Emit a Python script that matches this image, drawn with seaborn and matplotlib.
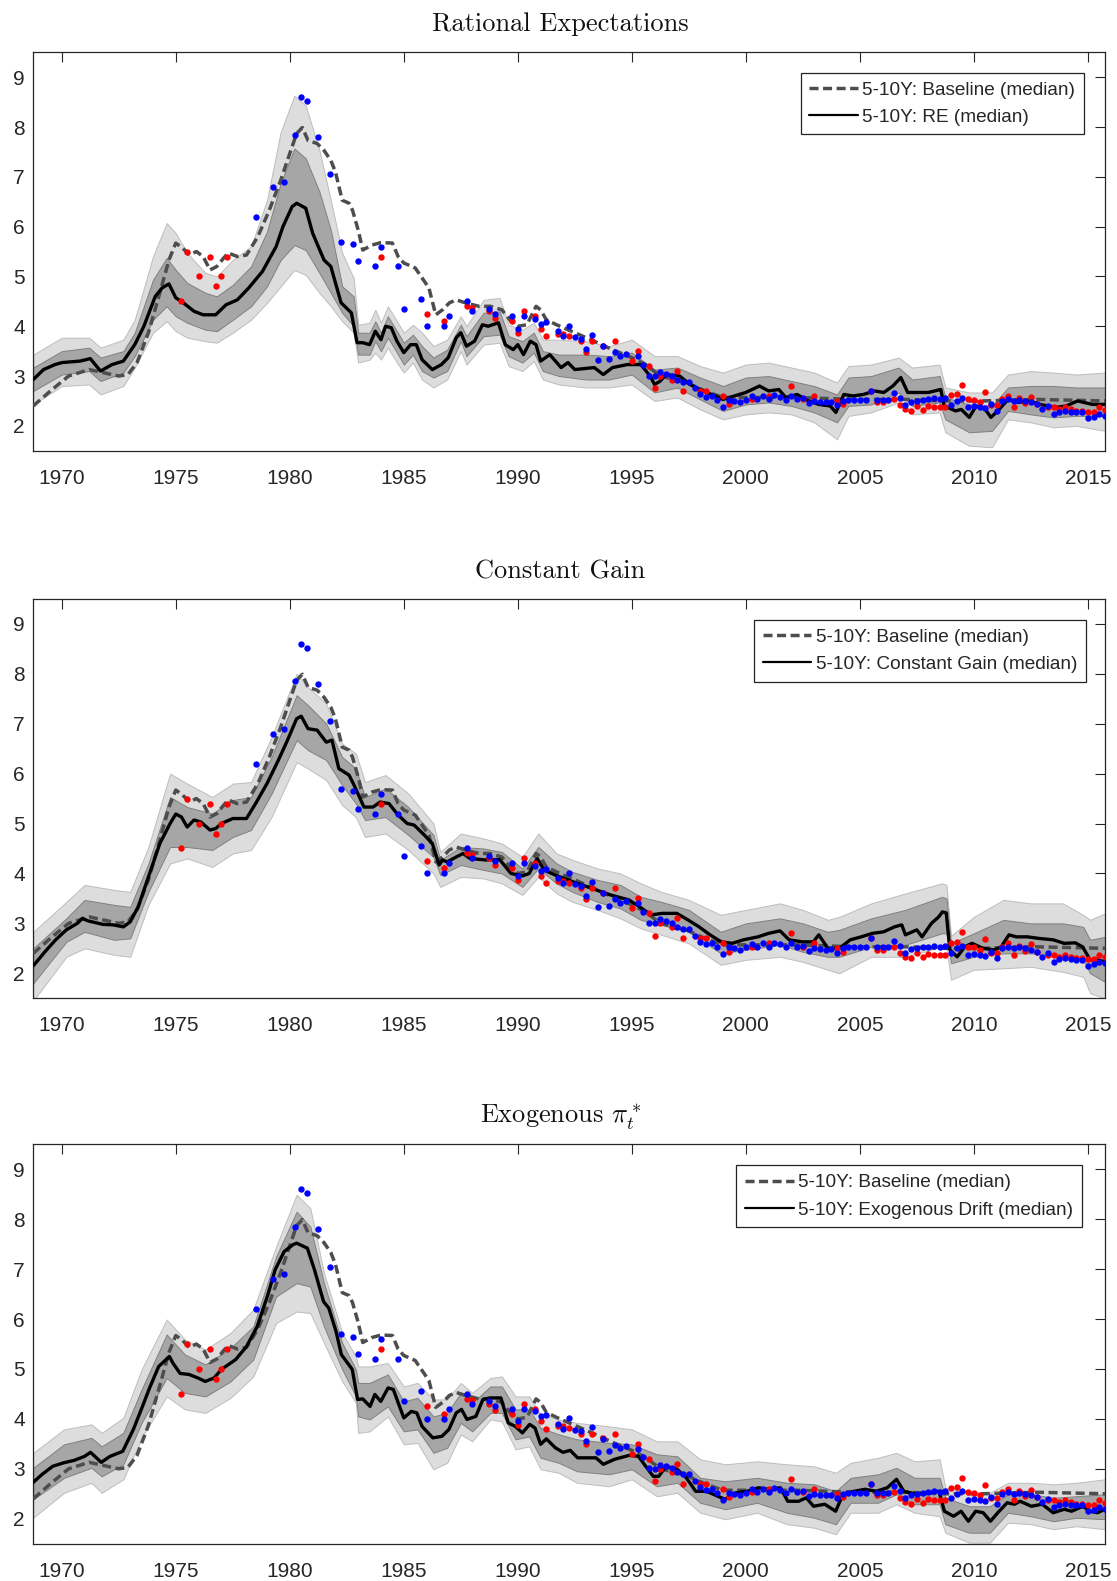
import numpy as np
import pandas as pd
import matplotlib
matplotlib.use("Agg")
import matplotlib.pyplot as plt
from matplotlib.lines import Line2D
import seaborn as sns

# ---------------- data ----------------
YEARS_TICKS = [1970, 1975, 1980, 1985, 1990, 1995, 2000, 2005, 2010, 2015]
Y_TICKS = [2, 3, 4, 5, 6, 7, 8, 9]
TITLES = ["Rational Expectations", "Constant Gain", r"Exogenous $\pi_t^*$"]
LEGEND_LABELS = ["5-10Y: Baseline (median)", "5-10Y: RE (median)",
                 "5-10Y: Constant Gain (median)", "5-10Y: Exogenous Drift (median)"]

# survey data (same in every panel)
RED_PTS = [(1975.25,4.5),(1975.5,5.5),(1976.0,5.0),(1976.5,5.4),(1976.75,4.8),(1977.0,5.0),(1977.25,5.4),
 (1984.0,5.4),(1986.0,4.25),(1986.75,4.1),(1987.75,4.4),(1988.0,4.37),(1988.75,4.3),(1989.0,4.17),(1989.75,4.1),
 (1990.0,3.87),(1990.25,4.3),(1990.75,4.2),(1991.0,3.95),(1991.25,3.8),(1991.75,3.85),(1992.0,3.85),(1992.25,3.81),
 (1992.75,3.7),(1993.0,3.49),(1993.25,3.7),(1993.75,3.61),(1994.25,3.7),(1995.0,3.3),(1995.25,3.5),(1995.75,3.2),
 (1996.0,2.75),(1996.25,3.0),(1996.75,2.93),(1997.0,3.1),(1997.25,2.7),(1998.0,2.7),(1998.25,2.7),(1999.0,2.6),
 (1999.25,2.43),(2000.25,2.53),(2001.0,2.6),(2002.0,2.8),(2002.5,2.53),(2003.0,2.6),(2004.0,2.5),(2004.25,2.43),
 (2005.5,2.7),(2005.75,2.47),(2006.0,2.47),(2006.5,2.53),(2006.75,2.41),(2007.0,2.33),(2007.25,2.3),(2007.5,2.4),
 (2007.75,2.32),(2008.0,2.39),(2008.25,2.37),(2008.5,2.37),(2008.75,2.37),(2009.0,2.61),(2009.25,2.63),(2009.5,2.82),
 (2009.75,2.53),(2010.0,2.52),(2010.25,2.47),(2010.5,2.68),(2010.75,2.41),(2011.0,2.41),(2011.25,2.53),(2011.5,2.6),
 (2011.75,2.37),(2012.0,2.55),(2012.25,2.45),(2012.5,2.58),(2012.75,2.43),(2013.25,2.37),(2013.5,2.37),(2013.75,2.33),
 (2014.0,2.37),(2014.25,2.33),(2014.5,2.3),(2014.75,2.3),(2015.0,2.28),(2015.25,2.28),(2015.5,2.37),(2015.75,2.32)]
BLUE_PTS = [(1978.5,6.2),(1979.25,6.8),(1979.75,6.9),(1980.25,7.85),(1980.5,8.6),(1980.75,8.52),(1981.25,7.8),
 (1981.75,7.05),(1982.25,5.7),(1982.75,5.65),(1983.0,5.3),(1983.75,5.2),(1984.0,5.6),(1984.75,5.2),(1985.0,4.35),
 (1985.75,4.55),(1986.0,4.0),(1986.75,4.0),(1987.0,4.2),(1987.75,4.5),(1988.0,4.3),(1988.75,4.35),(1989.0,4.25),
 (1989.75,4.2),(1990.0,3.95),(1990.25,4.2),(1990.75,4.15),(1991.0,4.05),(1991.25,4.08),(1991.75,3.9),(1992.0,3.8),
 (1992.25,4.01),(1992.5,3.78),(1992.75,3.75),(1993.0,3.55),(1993.25,3.83),(1993.5,3.33),(1993.75,3.6),(1994.0,3.35),
 (1994.25,3.48),(1994.5,3.41),(1994.75,3.45),(1995.25,3.4),(1995.5,3.23),(1995.75,3.01),(1996.0,3.0),(1996.25,3.08),
 (1996.5,3.05),(1996.75,3.01),(1997.0,2.93),(1997.25,2.89),(1997.5,2.89),(1997.75,2.75),(1998.0,2.63),(1998.25,2.58),
 (1998.5,2.6),(1998.75,2.52),(1999.0,2.38),(1999.25,2.52),(1999.5,2.5),(1999.75,2.47),(2000.0,2.52),(2000.25,2.59),
 (2000.5,2.53),(2000.75,2.6),(2001.0,2.53),(2001.25,2.61),(2001.5,2.58),(2001.75,2.52),(2002.0,2.6),(2002.25,2.53),
 (2002.5,2.55),(2002.75,2.45),(2003.0,2.5),(2003.25,2.48),(2003.5,2.47),(2003.75,2.48),(2004.0,2.41),(2004.25,2.5),
 (2004.5,2.52),(2004.75,2.52),(2005.0,2.52),(2005.25,2.52),(2005.5,2.7),(2005.75,2.52),(2006.0,2.52),(2006.25,2.52),
 (2006.5,2.65),(2006.75,2.55),(2007.0,2.41),(2007.25,2.48),(2007.5,2.5),(2007.75,2.52),(2008.0,2.53),(2008.25,2.55),
 (2008.5,2.53),(2008.75,2.55),(2009.0,2.41),(2009.25,2.5),(2009.5,2.55),(2009.75,2.37),(2010.0,2.39),(2010.25,2.37),
 (2010.5,2.35),(2010.75,2.43),(2011.0,2.3),(2011.25,2.5),(2011.5,2.53),(2011.75,2.5),(2012.0,2.52),(2012.25,2.5),
 (2012.5,2.47),(2012.75,2.43),(2013.0,2.33),(2013.25,2.4),(2013.5,2.23),(2013.75,2.28),(2014.0,2.3),(2014.25,2.28),
 (2014.5,2.27),(2014.75,2.27),(2015.0,2.15),(2015.25,2.18),(2015.5,2.23),(2015.75,2.2)]

# baseline median (same in every panel)
BASELINE = [(1968.75,2.4),(1969.5,2.7),(1970.3,3.0),(1971.2,3.13),(1971.8,3.07),(1972.5,3.0),(1972.9,3.03),
 (1973.3,3.27),(1973.8,3.87),(1974.3,4.67),(1974.7,5.33),(1975.0,5.67),(1975.3,5.57),(1975.6,5.43),(1975.9,5.5),
 (1976.2,5.4),(1976.5,5.13),(1976.8,5.2),(1977.1,5.37),(1977.3,5.47),(1977.7,5.4),(1978.1,5.43),(1978.6,5.8),
 (1979.1,6.33),(1979.6,6.93),(1980.0,7.47),(1980.3,7.87),(1980.55,7.99),(1980.8,7.73),(1981.2,7.67),(1981.5,7.53),
 (1981.8,7.33),(1982.0,7.1),(1982.3,6.53),(1982.6,6.47),(1982.75,6.33),(1983.0,5.93),(1983.2,5.53),(1983.6,5.63),
 (1984.0,5.68),(1984.5,5.67),(1984.75,5.4),(1985.0,5.27),(1985.5,5.17),(1985.8,4.97),(1986.1,4.77),(1986.4,4.23),
 (1986.7,4.33),(1987.0,4.47),(1987.3,4.53),(1987.7,4.47),(1988.3,4.4),(1988.8,4.4),(1989.3,4.33),(1989.7,4.1),
 (1990.0,4.0),(1990.4,4.03),(1990.8,4.4),(1991.0,4.33),(1991.25,4.13),(1991.7,4.03),(1992.5,3.87),(1993.35,3.7),
 (1994.15,3.53),(1995.0,3.37),(1995.6,3.23),(1996.25,3.0),(1997.4,2.87),(1998.2,2.7),(1999.0,2.57),(2000.0,2.57),
 (2002.25,2.57),(2004.7,2.53),(2007.1,2.53),(2008.55,2.5),(2010.35,2.5),(2012.8,2.53),(2015.75,2.5)]

# Rational expectations: median and bands (year, lo95, lo68, hi68, hi95)
RE_MEDIAN = [(1968.75,2.93),(1969.2,3.13),(1969.7,3.23),(1970.0,3.27),(1970.8,3.3),(1971.25,3.35),(1971.7,3.1),
 (1972.2,3.23),(1972.7,3.3),(1973.2,3.63),(1973.6,4.0),(1974.1,4.6),(1974.4,4.77),(1974.7,4.85),(1975.0,4.57),
 (1975.25,4.5),(1975.8,4.3),(1976.2,4.23),(1976.75,4.23),(1977.2,4.43),(1977.7,4.53),(1978.2,4.77),(1978.8,5.1),
 (1979.4,5.6),(1979.7,6.0),(1980.1,6.4),(1980.3,6.47),(1980.7,6.37),(1981.0,5.87),(1981.5,5.33),(1981.8,5.2),
 (1982.25,4.47),(1982.7,4.27),(1982.95,3.67),(1983.2,3.67),(1983.5,3.63),(1983.75,3.9),(1984.0,3.73),(1984.2,4.0),
 (1984.45,3.97),(1984.7,3.7),(1985.0,3.47),(1985.3,3.63),(1985.55,3.63),(1985.8,3.33),(1986.25,3.13),(1986.65,3.23),
 (1986.95,3.37),(1987.3,3.77),(1987.5,3.87),(1987.75,3.6),(1988.1,3.7),(1988.45,4.03),(1988.7,4.0),(1989.15,4.07),
 (1989.45,3.63),(1989.8,3.53),(1990.0,3.63),(1990.25,3.43),(1990.55,3.7),(1990.8,3.63),(1991.0,3.3),(1991.4,3.43),
 (1991.9,3.17),(1992.2,3.27),(1992.5,3.13),(1993.35,3.17),(1993.75,3.03),(1994.15,3.17),(1994.8,3.23),(1995.4,3.23),
 (1995.8,3.0),(1996.0,2.83),(1996.25,2.9),(1996.5,3.03),(1997.1,3.0),(1997.55,2.83),(1998.0,2.73),(1998.5,2.63),
 (1999.0,2.53),(1999.5,2.6),(2000.0,2.67),(2000.6,2.8),(2001.0,2.7),(2001.45,2.73),(2001.75,2.57),(2002.25,2.63),
 (2002.75,2.5),(2003.2,2.43),(2003.7,2.4),(2003.95,2.27),(2004.3,2.63),(2004.7,2.6),(2005.15,2.63),(2005.65,2.7),
 (2006.05,2.67),(2006.45,2.8),(2006.8,2.97),(2007.1,2.67),(2007.6,2.67),(2008.0,2.67),(2008.55,2.73),(2008.7,2.4),
 (2009.2,2.3),(2009.45,2.33),(2009.8,2.17),(2010.1,2.4),(2010.5,2.33),(2010.75,2.17),(2011.05,2.3),(2011.5,2.53),
 (2011.95,2.47),(2012.45,2.5),(2012.9,2.43),(2013.6,2.37),(2014.05,2.4),(2014.55,2.5),(2015.2,2.43),(2015.75,2.43)]
RE_BANDS = [(1968.75,2.43,2.7,3.17,3.43),(1970.0,2.8,3.03,3.5,3.77),(1971.2,2.83,3.1,3.57,3.77),
 (1971.7,2.63,2.9,3.37,3.57),(1972.7,2.8,3.07,3.5,3.73),(1973.2,3.17,3.4,3.87,4.13),(1974.0,3.87,4.13,4.93,5.4),
 (1974.6,4.1,4.4,5.37,6.07),(1975.0,3.9,4.2,5.13,5.87),(1975.5,3.77,4.07,4.87,5.47),(1976.3,3.7,3.93,4.67,5.07),
 (1976.8,3.67,3.9,4.6,5.0),(1977.5,3.87,4.13,4.83,5.33),(1978.3,4.13,4.4,5.2,5.6),(1979.0,4.47,4.8,5.9,6.53),
 (1979.6,4.8,5.33,6.87,7.9),(1980.2,5.13,5.63,7.57,8.63),(1980.7,5.03,5.53,7.37,8.43),(1981.3,4.67,5.07,6.7,7.53),
 (1981.8,4.4,4.67,5.93,6.53),(1982.3,4.1,4.27,4.8,5.47),(1982.8,3.87,4.0,4.6,4.97),(1983.0,3.27,3.43,3.87,4.03),
 (1983.5,3.33,3.43,3.87,4.07),(1983.75,3.47,3.7,4.1,4.33),(1984.0,3.33,3.5,3.87,4.07),(1984.3,3.57,3.77,4.2,4.4),
 (1984.7,3.27,3.47,3.9,4.1),(1985.0,3.07,3.23,3.67,3.87),(1985.4,3.27,3.43,3.83,4.03),(1985.8,2.93,3.1,3.6,3.87),
 (1986.3,2.77,2.97,3.37,3.6),(1986.9,2.93,3.1,3.53,3.73),(1987.5,3.5,3.7,4.03,4.2),(1987.75,3.23,3.4,3.8,4.0),
 (1988.5,3.63,3.8,4.27,4.53),(1989.2,3.67,3.83,4.3,4.57),(1989.6,3.2,3.4,3.8,4.03),(1990.2,3.1,3.27,3.7,3.93),
 (1990.7,3.3,3.47,3.87,4.07),(1991.1,2.93,3.1,3.5,3.73),(1991.8,2.83,3.0,3.43,3.73),(1993.0,2.77,2.93,3.43,3.7),
 (1994.0,2.77,2.93,3.4,3.6),(1995.0,2.83,3.03,3.47,3.73),(1996.0,2.5,2.67,3.13,3.4),(1997.0,2.57,2.77,3.17,3.4),
 (1998.0,2.33,2.53,2.97,3.2),(1999.0,2.13,2.3,2.8,3.07),(2000.0,2.23,2.43,2.97,3.23),(2001.0,2.27,2.47,3.0,3.27),
 (2002.0,2.23,2.4,2.9,3.17),(2003.0,2.07,2.27,2.8,3.07),(2004.0,1.73,2.07,2.63,2.87),(2004.5,2.2,2.4,2.97,3.2),
 (2005.5,2.27,2.43,3.0,3.23),(2006.7,2.47,2.67,3.17,3.37),(2007.3,2.23,2.4,2.93,3.17),(2008.5,2.27,2.47,3.0,3.23),
 (2008.75,1.87,2.13,2.57,2.77),(2009.8,1.6,1.87,2.43,2.67),(2010.8,1.57,1.9,2.4,2.67),(2011.5,2.13,2.3,2.77,3.03),
 (2012.5,2.07,2.23,2.8,3.1),(2013.5,1.97,2.17,2.8,3.07),(2014.5,2.0,2.2,2.77,3.03),(2015.75,1.9,2.2,2.77,3.07)]

# Constant gain
CG_MEDIAN = [(1968.75,2.15),(1969.26,2.43),(1969.73,2.67),(1970.2,2.87),(1970.68,3.0),(1970.9,3.1),(1971.15,3.05),
 (1971.8,2.98),(1972.25,2.97),(1972.7,2.93),(1973.0,3.03),(1973.35,3.33),(1973.8,3.93),(1974.3,4.6),(1974.75,5.0),
 (1975.0,5.19),(1975.25,5.13),(1975.5,4.93),(1975.8,5.07),(1976.1,5.03),(1976.5,4.87),(1976.75,4.9),(1977.0,5.0),
 (1977.5,5.1),(1978.1,5.1),(1978.5,5.4),(1979.0,5.8),(1979.5,6.27),(1979.9,6.67),(1980.3,7.1),(1980.5,7.15),
 (1980.8,6.9),(1981.2,6.87),(1981.6,6.63),(1981.85,6.67),(1982.15,6.1),(1982.6,5.97),(1982.86,5.73),(1983.25,5.33),
 (1983.65,5.33),(1983.96,5.43),(1984.35,5.4),(1984.75,5.17),(1985.15,5.0),(1985.45,4.97),(1985.9,4.77),(1986.25,4.6),
 (1986.55,4.17),(1986.7,4.27),(1986.9,4.23),(1987.3,4.33),(1987.6,4.4),(1987.9,4.3),(1988.6,4.27),(1989.2,4.28),
 (1989.7,4.0),(1990.2,3.95),(1990.5,4.0),(1990.85,4.3),(1991.15,4.07),(1991.63,3.97),(1992.44,3.83),(1993.25,3.7),
 (1994.06,3.57),(1994.87,3.47),(1995.35,3.33),(1995.84,3.17),(1996.33,3.2),(1996.97,3.2),(1997.46,3.07),(1997.95,2.93),
 (1998.43,2.77),(1998.92,2.63),(1999.4,2.6),(1999.89,2.67),(2000.53,2.73),(2001.0,2.8),(2001.5,2.85),(2001.9,2.67),
 (2002.47,2.63),(2002.96,2.63),(2003.2,2.77),(2003.6,2.5),(2004.1,2.5),(2004.58,2.67),(2005.06,2.73),(2005.55,2.8),
 (2006.04,2.83),(2006.52,2.93),(2006.84,2.97),(2007.0,2.77),(2007.5,2.87),(2007.73,2.73),(2008.14,3.0),(2008.46,3.13),
 (2008.62,3.23),(2008.79,3.21),(2008.95,2.47),(2009.27,2.33),(2009.6,2.53),(2009.92,2.6),(2010.4,2.5),(2010.9,2.47),
 (2011.2,2.53),(2011.54,2.77),(2011.86,2.73),(2012.35,2.73),(2012.83,2.7),(2013.48,2.67),(2013.96,2.6),(2014.45,2.61),
 (2014.77,2.53),(2015.1,2.27),(2015.42,2.27),(2015.75,2.23)]
CG_BANDS = [(1968.75,1.45,1.8,2.5,2.83),(1970.2,2.33,2.63,3.1,3.43),(1971.0,2.5,2.83,3.47,3.77),
 (1972.3,2.37,2.67,3.37,3.67),(1973.0,2.33,2.7,3.33,3.63),(1973.8,3.37,3.63,4.2,4.53),(1974.75,4.2,4.53,5.53,6.0),
 (1975.5,4.3,4.53,5.33,5.8),(1976.6,4.13,4.47,5.2,5.53),(1977.5,4.4,4.73,5.47,5.8),(1978.3,4.47,4.87,5.53,5.83),
 (1979.2,5.13,5.6,6.33,6.73),(1980.3,6.23,6.67,7.57,8.0),(1980.8,6.1,6.47,7.37,7.73),(1981.6,5.87,6.27,7.0,7.4),
 (1982.3,5.37,5.77,6.33,6.6),(1982.9,5.13,5.4,6.1,6.4),(1983.3,4.73,5.07,5.53,5.83),(1984.2,4.8,5.13,5.7,5.97),
 (1985.2,4.47,4.77,5.33,5.6),(1986.3,4.0,4.33,4.77,5.0),(1986.6,3.73,3.97,4.27,4.43),(1987.5,3.93,4.17,4.53,4.8),
 (1988.5,3.9,4.07,4.5,4.7),(1989.3,3.8,4.0,4.43,4.6),(1990.2,3.57,3.73,4.1,4.33),(1990.9,3.93,4.1,4.53,4.8),
 (1991.7,3.6,3.8,4.2,4.4),(1992.4,3.43,3.63,4.03,4.27),(1993.5,3.27,3.43,3.87,4.1),(1994.5,3.1,3.3,3.77,4.0),
 (1995.4,2.9,3.07,3.53,3.8),(1996.3,2.77,2.97,3.43,3.63),(1997.5,2.6,2.83,3.27,3.47),(1998.9,2.17,2.4,2.83,3.17),
 (2000.0,2.27,2.47,3.0,3.27),(2001.5,2.33,2.57,3.1,3.4),(2002.5,2.23,2.43,3.0,3.27),(2003.6,2.07,2.33,2.83,3.07),
 (2004.1,2.0,2.33,2.87,3.13),(2005.5,2.33,2.53,3.1,3.4),(2007.0,2.33,2.57,3.27,3.6),(2008.6,2.53,2.8,3.53,3.8),
 (2008.8,2.5,2.8,3.5,3.77),(2009.0,1.87,2.2,2.6,2.75),(2010.0,2.07,2.33,2.8,3.13),(2011.3,2.1,2.4,3.07,3.47),
 (2012.5,2.13,2.4,3.0,3.4),(2013.9,2.03,2.33,3.0,3.4),(2014.8,1.93,2.27,2.93,3.17),(2015.1,1.6,2.0,2.67,3.07),
 (2015.75,1.5,1.83,2.73,3.2)]

# Exogenous drift
EX_MEDIAN = [(1968.75,2.73),(1969.14,2.89),(1969.6,3.05),(1970.08,3.12),(1970.55,3.17),(1971.0,3.25),(1971.26,3.33),
 (1971.73,3.13),(1972.12,3.25),(1972.67,3.35),(1973.14,3.79),(1973.54,4.25),(1973.85,4.62),(1974.25,5.05),(1974.72,5.25),
 (1974.87,5.12),(1975.19,4.91),(1975.58,4.89),(1975.97,4.82),(1976.29,4.75),(1976.68,4.82),(1977.0,4.99),(1977.63,5.19),
 (1978.1,5.45),(1978.57,5.85),(1979.04,6.49),(1979.36,6.99),(1979.75,7.35),(1980.14,7.49),(1980.3,7.52),(1980.77,7.42),
 (1981.08,6.99),(1981.48,6.35),(1981.71,6.22),(1982.03,5.75),(1982.26,5.29),(1982.74,4.99),(1982.97,4.39),(1983.2,4.4),
 (1983.52,4.25),(1983.73,4.49),(1983.99,4.35),(1984.31,4.62),(1984.54,4.59),(1984.78,4.29),(1985.0,4.02),(1985.33,4.15),
 (1985.57,4.12),(1985.8,3.85),(1986.27,3.62),(1986.67,3.65),(1986.98,3.79),(1987.3,4.12),(1987.53,4.19),(1987.77,3.99),
 (1988.16,4.05),(1988.47,4.39),(1988.79,4.42),(1989.26,4.42),(1989.58,3.92),(1989.89,3.85),(1990.2,3.72),(1990.52,3.89),
 (1990.75,3.82),(1991.0,3.49),(1991.25,3.6),(1991.65,3.42),(1991.98,3.33),(1992.3,3.37),(1992.62,3.22),(1993.43,3.22),
 (1993.75,3.09),(1994.24,3.19),(1994.89,3.27),(1995.29,3.25),(1995.61,3.05),(1995.94,2.85),(1996.18,2.85),(1996.5,3.05),
 (1996.99,2.99),(1997.39,2.82),(1997.8,2.55),(1998.28,2.55),(1998.77,2.45),(1999.09,2.39),(1999.58,2.52),(2000.06,2.55),
 (2000.55,2.62),(2001.03,2.59),(2001.52,2.62),(2001.84,2.35),(2002.32,2.35),(2002.65,2.42),(2002.97,2.25),(2003.46,2.29),
 (2003.94,2.15),(2004.26,2.49),(2004.75,2.55),(2005.23,2.59),(2005.72,2.55),(2006.2,2.62),(2006.61,2.79),(2006.93,2.55),
 (2007.5,2.49),(2007.98,2.52),(2008.47,2.55),(2008.71,2.15),(2009.11,2.05),(2009.44,2.15),(2009.76,1.95),(2010.08,2.15),
 (2010.41,2.12),(2010.73,1.95),(2011.05,2.12),(2011.46,2.32),(2011.78,2.29),(2012.03,2.35),(2012.52,2.25),(2013.0,2.29),
 (2013.48,2.12),(2013.97,2.19),(2014.29,2.15),(2014.78,2.25),(2015.1,2.15),(2015.42,2.12),(2015.75,2.19)]
EX_BANDS = [(1968.75,2.02,2.39,3.02,3.32),(1970.1,2.52,2.82,3.49,3.79),(1971.3,2.72,3.02,3.62,3.89),
 (1971.75,2.52,2.85,3.45,3.72),(1972.7,2.79,3.09,3.72,4.02),(1973.5,3.62,3.92,4.59,4.99),(1974.6,4.45,4.82,5.69,5.99),
 (1975.4,4.19,4.52,5.29,5.59),(1976.3,4.12,4.45,5.09,5.39),(1977.4,4.42,4.75,5.42,5.72),(1978.4,4.85,5.19,5.85,6.19),
 (1979.4,5.92,6.45,7.25,7.45),(1980.3,6.15,6.72,8.15,8.49),(1980.9,6.12,6.65,7.85,8.22),(1981.5,5.52,5.85,6.72,6.92),
 (1982.3,4.75,4.99,5.52,5.72),(1982.9,4.32,4.45,4.99,5.25),(1983.0,3.72,4.05,4.72,5.05),(1983.5,3.75,3.99,4.72,5.05),
 (1984.3,4.05,4.25,4.89,5.12),(1985.0,3.49,3.75,4.35,4.65),(1985.6,3.52,3.79,4.42,4.72),(1986.3,2.99,3.32,4.05,4.39),
 (1986.9,3.12,3.42,4.12,4.39),(1987.5,3.69,3.92,4.52,4.72),(1988.0,3.55,3.75,4.32,4.52),(1988.8,3.99,4.12,4.65,4.82),
 (1989.3,3.95,4.12,4.65,4.85),(1989.9,3.39,3.59,4.19,4.45),(1990.5,3.45,3.65,4.19,4.45),(1991.0,2.99,3.22,3.82,4.09),
 (1991.8,2.92,3.12,3.69,3.99),(1992.6,2.72,2.95,3.59,3.92),(1994.0,2.65,2.89,3.52,3.85),(1995.0,2.79,2.99,3.49,3.79),
 (1996.1,2.45,2.65,3.29,3.55),(1997.0,2.52,2.72,3.25,3.55),(1998.0,2.12,2.32,2.82,3.19),(1999.1,1.99,2.19,2.75,3.09),
 (2000.5,2.12,2.32,2.82,3.15),(2001.8,1.89,2.12,2.72,3.09),(2003.0,1.82,2.02,2.69,3.05),(2003.95,1.69,1.89,2.55,2.92),
 (2004.6,2.12,2.32,2.82,3.12),(2005.8,2.12,2.32,2.89,3.22),(2006.6,2.29,2.49,3.02,3.32),(2007.4,2.12,2.29,2.82,3.15),
 (2008.5,2.05,2.29,2.82,3.19),(2008.75,1.72,1.89,2.42,2.62),(2009.8,1.52,1.72,2.25,2.52),(2010.7,1.52,1.72,2.25,2.52),
 (2011.5,1.92,2.12,2.49,2.72),(2012.5,1.89,2.05,2.49,2.72),(2013.5,1.79,1.95,2.42,2.69),(2014.5,1.85,2.02,2.45,2.72),
 (2015.75,1.79,1.99,2.49,2.79)]

# ---------------- style ----------------
sns.set_style("white")
plt.rcParams["font.family"] = ["Liberation Sans", "DejaVu Sans"]
plt.rcParams["mathtext.fontset"] = "cm"

OUTER_C = "#dddddd"
OUTER_E = "#bdbdbd"
INNER_C = "#a6a6a6"
INNER_E = "#808080"
BASE_C = "#4d4d4d"
BASE_DASH = (0, (2.6, 1.3))

fig = plt.figure(figsize=(11.17, 15.81), dpi=100)
rects = [[0.0298, 0.7149, 0.9594, 0.2520],
         [0.0298, 0.3686, 0.9594, 0.2526],
         [0.0298, 0.0236, 0.9594, 0.2526]]
legend_anchor = [(0.9804, 0.949), (0.9823, 0.947), (0.9785, 0.947)]
panels = [(RE_MEDIAN, RE_BANDS, LEGEND_LABELS[1]),
          (CG_MEDIAN, CG_BANDS, LEGEND_LABELS[2]),
          (EX_MEDIAN, EX_BANDS, LEGEND_LABELS[3])]

base_df = pd.DataFrame(BASELINE, columns=["year", "value"])
red_df = pd.DataFrame(RED_PTS, columns=["year", "value"])
blue_df = pd.DataFrame(BLUE_PTS, columns=["year", "value"])

for i, (med, bands, lab) in enumerate(panels):
    ax = fig.add_axes(rects[i])
    bdf = pd.DataFrame(bands, columns=["year", "lo95", "lo68", "hi68", "hi95"])
    mdf = pd.DataFrame(med, columns=["year", "value"])

    ax.fill_between(bdf["year"], bdf["lo95"], bdf["hi95"], facecolor=OUTER_C,
                    edgecolor=OUTER_E, linewidth=0.7, zorder=1)
    ax.fill_between(bdf["year"], bdf["lo68"], bdf["hi68"], facecolor=INNER_C,
                    edgecolor=INNER_E, linewidth=0.7, zorder=2)

    sns.lineplot(data=base_df, x="year", y="value", ax=ax, color=BASE_C, linewidth=2.5,
                 linestyle=BASE_DASH, estimator=None, sort=False, legend=False, zorder=3)
    sns.lineplot(data=mdf, x="year", y="value", ax=ax, color="black", linewidth=2.4,
                 estimator=None, sort=False, legend=False, zorder=4)
    sns.scatterplot(data=red_df, x="year", y="value", ax=ax, color="#ff0000", s=21,
                    linewidth=0, legend=False, zorder=5)
    sns.scatterplot(data=blue_df, x="year", y="value", ax=ax, color="#0000ff", s=21,
                    linewidth=0, legend=False, zorder=6)

    ax.set_xlim(1968.75, 2015.75)
    ax.set_ylim(1.5, 9.5)
    ax.set_xticks(YEARS_TICKS)
    ax.set_yticks(Y_TICKS)
    ax.set_xlabel("")
    ax.set_ylabel("")
    ax.tick_params(direction="in", length=7, width=0.8, top=True, right=True,
                   labelsize=15, colors="#262626", pad=6)
    ax.tick_params(axis="x", pad=13)
    for sp in ax.spines.values():
        sp.set_color("#262626")
        sp.set_linewidth(0.9)
        sp.set_visible(True)
    ax.set_title(TITLES[i], fontsize=19, family="cmr10", x=0.492,
                 pad=15, color="#111111")

    handles = [Line2D([0], [0], color=BASE_C, lw=2.5, linestyle=BASE_DASH),
               Line2D([0], [0], color="black", lw=1.6)]
    leg = ax.legend(handles, [LEGEND_LABELS[0], lab], loc="upper right",
                    bbox_to_anchor=legend_anchor[i], borderaxespad=0, fontsize=13.7,
                    frameon=True, fancybox=False, framealpha=1, edgecolor="#222222",
                    handlelength=2.55, handletextpad=0.25, borderpad=0.45, labelspacing=0.52)
    leg.get_frame().set_linewidth(0.9)

fig.savefig("out.png", dpi=100)
